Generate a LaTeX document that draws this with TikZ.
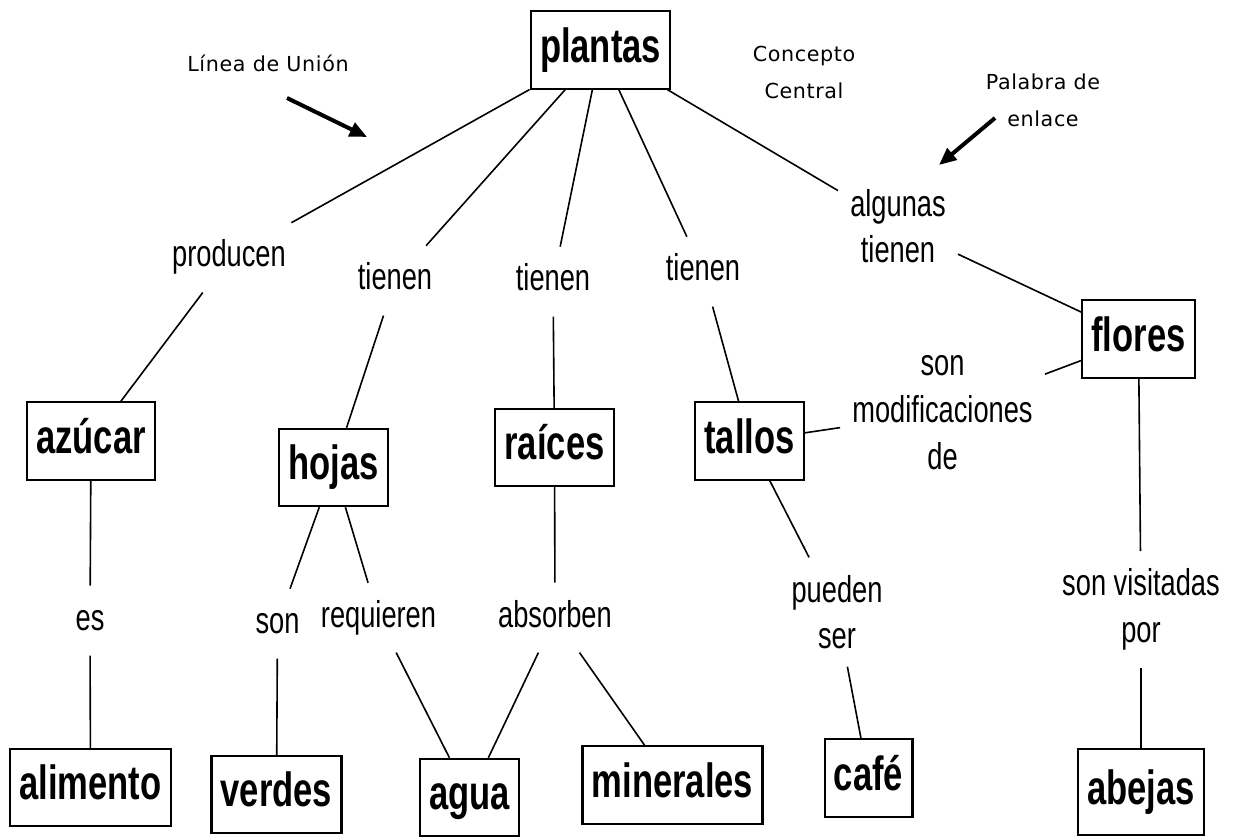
\documentclass[tikz,border=0pt]{standalone}
\usepackage{fontspec}
\setmainfont{Liberation Sans}
\newfontfamily\boxfont[FakeStretch=0.72]{Liberation Sans}
\newfontfamily\linkfont[FakeStretch=0.73]{Liberation Sans}
\newfontfamily\notefont[LetterSpace=3]{DejaVu Sans}
\usetikzlibrary{arrows.meta}

\tikzset{
  concept/.style={draw, line width=1.6pt, font=\boxfont\bfseries\fontsize{36}{40}\selectfont,
    inner xsep=7pt, minimum height=58pt, text height=26pt, text depth=7.5pt},
  linkword/.style={font=\linkfont\fontsize{28}{35}\selectfont, inner xsep=9pt, inner ysep=13pt,
    text height=20pt, text depth=6pt},
  linkwords/.style={font=\linkfont\fontsize{28}{35}\selectfont, inner xsep=9pt, inner ysep=13pt, align=center},
  note/.style={font=\notefont\fontsize{15.5}{27.75}\selectfont, align=center},
  tie/.style={line width=1.2pt},
  pointer/.style={line width=3pt, -{Triangle[length=13pt,width=11pt]}}
}

\begin{document}
\begin{tikzpicture}[x=0.75pt, y=-0.75pt]
\useasboundingbox (0,0) rectangle (1237,837);
% concepts
\node[concept] (plantas) at (600.5,50) {plantas};
\node[concept] (azucar) at (91,441) {azúcar};
\node[concept] (hojas) at (333.5,467.5) {hojas};
\node[concept] (raices) at (554.5,447.5) {raíces};
\node[concept] (tallos) at (749.5,441) {tallos};
\node[concept] (flores) at (1138.5,339) {flores};
\node[concept] (alimento) at (90.5,787.5) {alimento};
\node[concept] (verdes) at (276.5,794.5) {verdes};
\node[concept] (agua) at (469.5,797.5) {agua};
\node[concept] (minerales) at (672.5,785) {minerales};
\node[concept] (cafe) at (868.5,778) {café};
\node[concept, minimum height=64pt] (abejas) at (1141,792) {abejas};
% linking words
\node[linkword, anchor=base] (producen) at (229,267) {producen};
\node[linkword, anchor=base] (tiene1) at (395,290) {tienen};
\node[linkword, anchor=base] (tiene2) at (553,291) {tienen};
\node[linkword, anchor=base] (tiene3) at (703,281) {tienen};
\node[linkwords] (algunas) at (898,226) {algunas\\tienen};
\node[linkword, anchor=base] (es) at (90,630) {es};
\node[linkword, anchor=base] (son) at (277.5,633) {son};
\node[linkword, anchor=base] (requieren) at (378.5,627) {requieren};
\node[linkword, anchor=base] (absorben) at (555,627) {absorben};
\node[linkwords] (pueden) at (837,612) {pueden\\ser};
\node[linkwords] (modif) at (942.5,412.5) {son\\modificaciones\\de};
\node[linkwords] (visitadas) at (1141,609.5) {son visitadas\\por};
% the lines
\foreach \from/\to in {plantas/producen, plantas/tiene1, plantas/tiene2, plantas/tiene3, plantas/algunas,
    producen/azucar, tiene1/hojas, tiene2/raices, tiene3/tallos, algunas/flores,
    azucar/es, es/alimento, hojas/son, hojas/requieren, son/verdes, requieren/agua,
    raices/absorben, absorben/agua, absorben/minerales, tallos/pueden, pueden/cafe,
    flores/modif, modif/tallos, flores/visitadas, visitadas/abejas}
  {\draw[tie] (\from) -- (\to);}
% notes and their arrows
\node[note, anchor=base] (linea) at (268,72) {Línea de Unión};
\node[note] (central) at (804,72) {Concepto\\Central};
\node[note] (enlace) at (1043,100) {Palabra de\\enlace};
\coordinate (u1) at (287,98);
\coordinate (u2) at (367,137);
\coordinate (e1) at (995,118);
\coordinate (e2) at (939,165);
\draw[pointer] (u1) -- (u2);
\draw[pointer] (e1) -- (e2);
\end{tikzpicture}
\end{document}
